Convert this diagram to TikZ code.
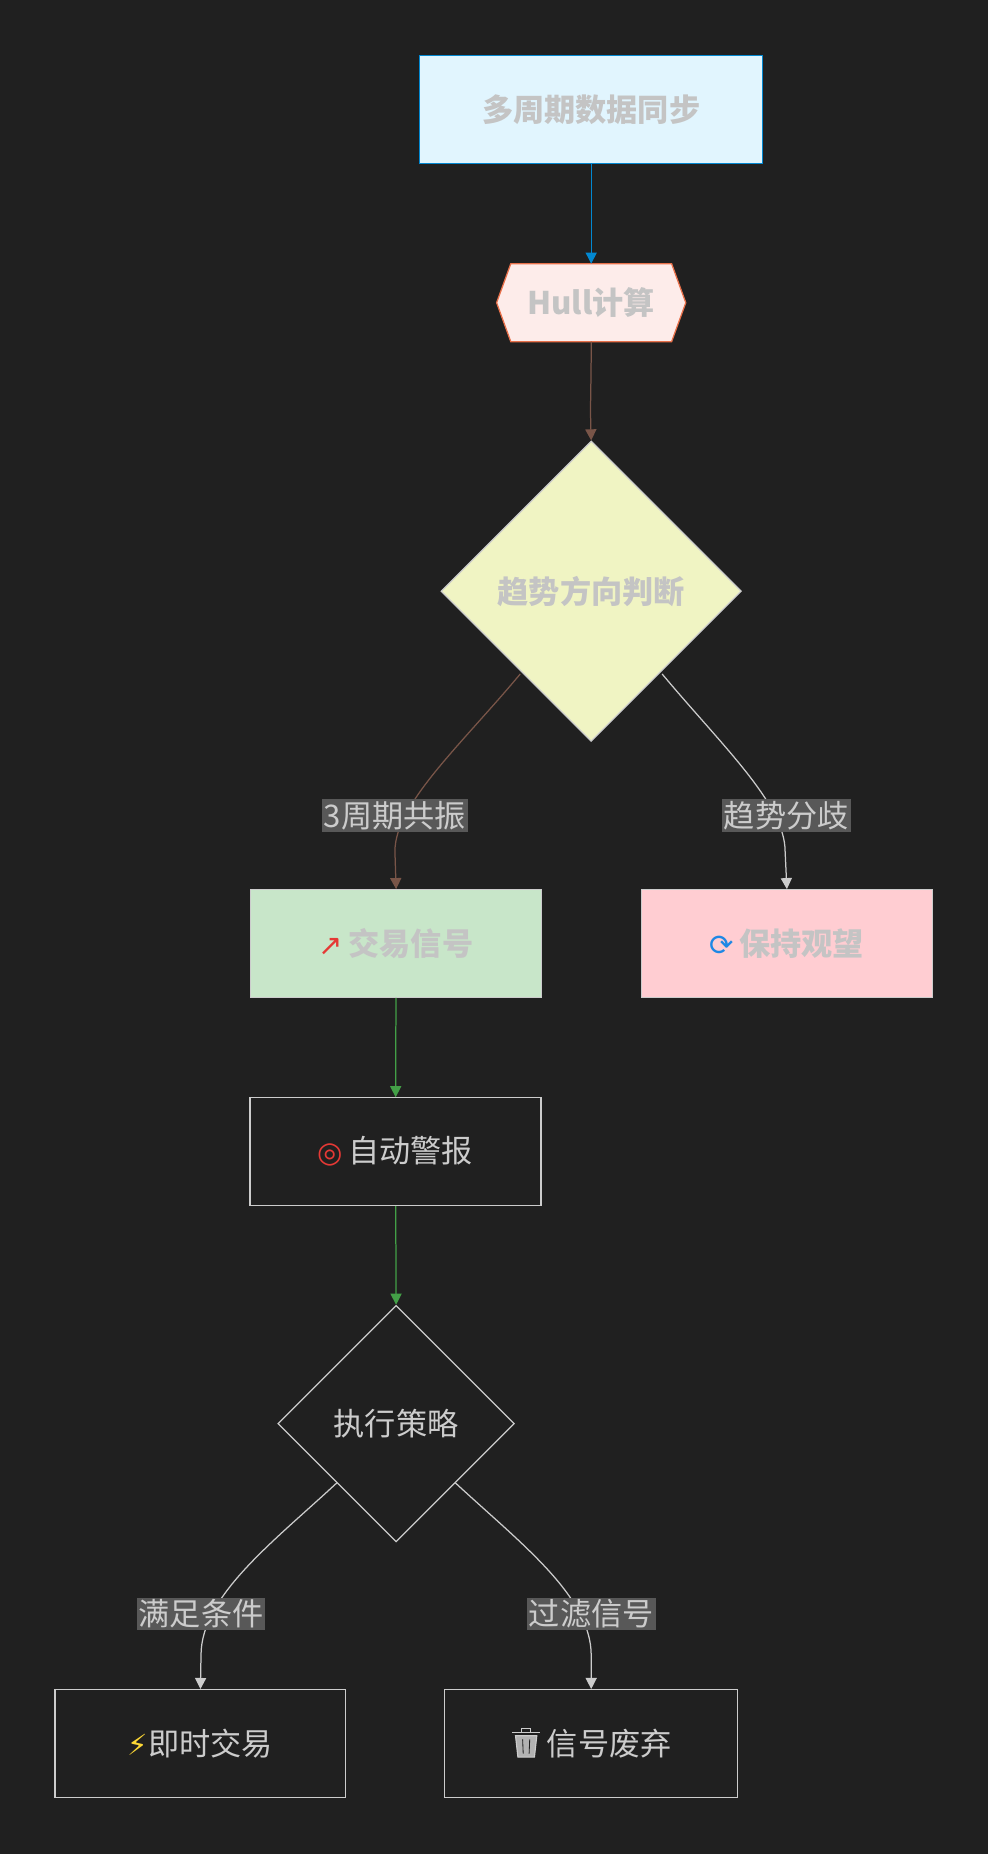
\documentclass[tikz,border=0pt]{standalone}
\usepackage{fontspec}
\setmainfont{Noto Sans CJK SC}
\newfontfamily\dejavu{DejaVu Sans}
\usetikzlibrary{arrows.meta,shapes.geometric,calc}
\definecolor{bg}{HTML}{202020}
\definecolor{lt}{HTML}{CCCCCC}
\definecolor{fadetxt}{HTML}{C4C4C4}
\definecolor{lblbg}{HTML}{585858}
\definecolor{blueb}{HTML}{0288D1}
\definecolor{bluef}{HTML}{E1F5FE}
\definecolor{orb}{HTML}{E8704A}
\definecolor{orf}{HTML}{FDECEA}
\definecolor{yelf}{HTML}{F0F4C3}
\definecolor{grf}{HTML}{C8E6C9}
\definecolor{pkf}{HTML}{FFCDD2}
\definecolor{brown}{HTML}{795548}
\definecolor{grn}{HTML}{43A047}
\definecolor{iconb}{HTML}{1E88E5}
\definecolor{iconr}{HTML}{E53935}
\definecolor{iconY}{HTML}{FDD835}
\newcommand{\ico}[1]{{\dejavu\fontsize{21}{24}\selectfont #1}}
\begin{document}
\begin{tikzpicture}[x=0.03cm,y=-0.03cm,
  fs/.style={font=\fontsize{22.5}{26}\selectfont},
  box/.style={draw=lt,line width=0.9pt,minimum width=246*0.03cm,minimum height=91*0.03cm,inner sep=0pt,fs},
  dark/.style={box,fill=bg,text=lt},
  light/.style={box,text=fadetxt},
  dia/.style={diamond,draw=lt,line width=0.9pt,inner sep=0pt,aspect=1},
  lbl/.style={fill=lblbg,text=lt,inner sep=1.5pt,fs},
  arr/.style={line width=0.9pt,-{Triangle[length=8pt,width=8pt]}}]
\fill[bg] (0,0) rectangle (836,1568);
\useasboundingbox (0,0) rectangle (836,1568);
\node[light,draw=blueb,fill=bluef,minimum width=290*0.03cm] (sync) at (500,92.5) {\textbf{多周期数据同步}};
\coordinate (hull) at (500,256);
\fill[orf,draw=orb,line width=0.9pt] (432,223) -- (568,223) -- (580,256) -- (568,289) -- (432,289) -- (420,256) -- cycle;
\node[text=fadetxt,fs] (hullt) at (hull) {\textbf{Hull计算}};
\node[dia,fill=yelf,minimum width=254*0.03cm,minimum height=254*0.03cm,text=fadetxt,fs] (trend) at (500,500) {\textbf{趋势方向判断}};
\node[light,fill=grf] (sig) at (335,798) {\textcolor{iconr}{\ico{↗}}\,\textbf{交易信号}};
\node[light,fill=pkf] (wait) at (665.5,798) {\textcolor{iconb}{\ico{⟳}}\,\textbf{保持观望}};
\node[dark] (alert) at (334.5,974) {\textcolor{iconr}{\ico{◎}}\,自动警报};
\node[dia,fill=bg,text=lt,minimum width=200*0.03cm,minimum height=200*0.03cm,fs] (exec) at (335,1204) {执行策略};
\node[dark] (now) at (169.5,1474.5) {\textcolor{iconY}{\ico{⚡}}即时交易};
\node[dark,minimum width=248*0.03cm] (drop) at (500,1474.5) {\hspace{26pt}信号废弃};
% trash icon
\coordinate (tr) at (445,1474);
\draw[lt,line width=0.8pt,fill=gray!60] ($(tr)+(-9,-6)$) -- ($(tr)+(-7,12)$) -- ($(tr)+(7,12)$) -- ($(tr)+(9,-6)$) -- cycle;
\draw[lt,line width=0.8pt] ($(tr)+(-12,-9)$) -- ($(tr)+(12,-9)$) ($(tr)+(-4,-9)$) -- ($(tr)+(-4,-12)$) -- ($(tr)+(4,-12)$) -- ($(tr)+(4,-9)$);
\draw[bg,line width=0.6pt] ($(tr)+(-3,-3)$) -- ($(tr)+(-2.5,9)$) ($(tr)+(3,-3)$) -- ($(tr)+(2.5,9)$);
\draw[arr,blueb] (sync) -- (500,223);
\draw[arr,brown] (500,289) .. controls (500,330) and (499,340) .. (trend.north);
\draw[arr,brown] (440,570) .. controls (390,630) and (334,680) .. (334,720) -- (sig.north);
\draw[arr,lt] (560,570) .. controls (610,630) and (664,680) .. (664,720) -- (wait.north);
\node[lbl] at (334,690) {3周期共振};
\node[lbl] at (665,690) {趋势分歧};
\draw[arr,grn] (sig) -- (alert);
\draw[arr,grn] (alert) -- (exec.north);
\draw[arr,lt] (285,1254) .. controls (230,1305) and (170,1350) .. (170,1400) -- (now.north);
\draw[arr,lt] (385,1254) .. controls (440,1305) and (500,1350) .. (500,1400) -- (drop.north);
\node[lbl] at (170,1365) {满足条件};
\node[lbl] at (500,1365) {过滤信号};
\end{tikzpicture}
\end{document}
